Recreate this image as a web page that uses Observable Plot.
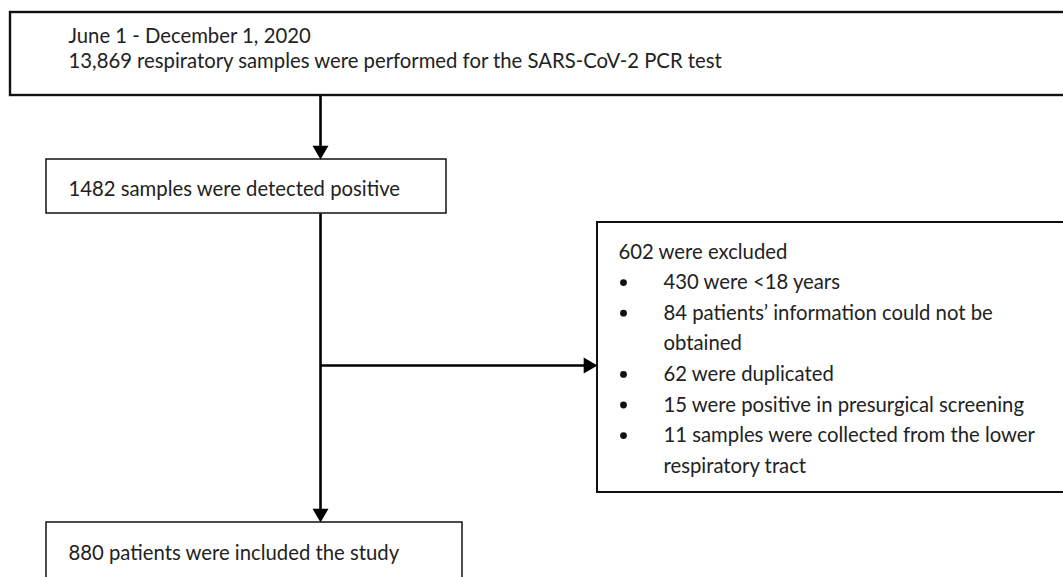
<!DOCTYPE html>
<html><head><meta charset="utf-8">
<script src="https://cdn.jsdelivr.net/npm/d3@7"></script>
<script src="https://cdn.jsdelivr.net/npm/@observablehq/plot@0.6"></script>
<style>html,body{margin:0;padding:0;background:#fff;overflow:hidden}</style>
</head><body><div id="chart"></div>
<script>
// ---- content ----
const topLines = ["June 1 - December 1, 2020", "13,869 respiratory samples were performed for the SARS-CoV-2 PCR test"];
const positiveLines = ["1482 samples were detected positive"];
const excludedHeader = ["602 were excluded"];
const excludedItems = [
  ["430 were <18 years"],
  ["84 patients\u2019 information could not be", "obtained"],
  ["62 were duplicated"],
  ["15 were positive in presurgical screening"],
  ["11 samples were collected from the lower", "respiratory tract"]
];
const includedLines = ["880 patients were included the study"];

// ---- layout ----
const W = 1063, H = 577;
const boxes = [
  {id: "top", x1: 10, x2: 1080, y1: 12, y2: 95, sw: 2.4},
  {id: "pos", x1: 46, x2: 446, y1: 159, y2: 213, sw: 1.5},
  {id: "exc", x1: 597, x2: 1080, y1: 222, y2: 492, sw: 2},
  {id: "inc", x1: 46, x2: 462, y1: 522, y2: 620, sw: 1.5}
];
const B = Object.fromEntries(boxes.map(b => [b.id, b]));
const stemX = 320, branchY = 365;
const lineGap = 30.6;

const texts = [];
topLines.forEach((t, i) => texts.push({x: 68, y: 42 + i * 25, t}));
positiveLines.forEach((t, i) => texts.push({x: 68, y: 195 + i * 25, t}));
excludedHeader.forEach(t => texts.push({x: 618, y: 258, t}));
const bullets = [];
let row = 1;
excludedItems.forEach(item => {
  bullets.push({x: 623, y: 258 + row * lineGap - 6.5});
  item.forEach(t => { texts.push({x: 663, y: 258 + row * lineGap, t}); row++; });
});
includedLines.forEach((t, i) => texts.push({x: 68, y: 559 + i * 25, t}));

const links = [
  {x1: stemX, y1: B.top.y2, x2: stemX, y2: B.pos.y1 - 8},
  {x1: stemX, y1: B.pos.y2, x2: stemX, y2: B.inc.y1 - 8},
  {x1: stemX, y1: branchY, x2: B.exc.x1 - 8, y2: branchY}
];
const hw = 4.6; // triangle half-scale
const heads = [
  {x: stemX, y: B.pos.y1 - 2 * hw, rot: 180},
  {x: stemX, y: B.inc.y1 - 2 * hw, rot: 180},
  {x: B.exc.x1 - 2 * hw, y: branchY, rot: 90}
];
const headR = Math.sqrt(3 * Math.sqrt(3) * hw * hw / Math.PI);

const font = "Lato, 'Open Sans', sans-serif";
const chart = Plot.plot({
  width: W, height: H,
  margin: 0,
  x: {domain: [0, W], range: [0, W], axis: null},
  y: {domain: [0, H], range: [0, H], axis: null},
  style: {background: "#fff", overflow: "hidden", fontFamily: font},
  marks: [
    Plot.rect(boxes, {x1: "x1", x2: "x2", y1: "y1", y2: "y2", fill: "#fff", stroke: "#111", strokeWidth: d => d.sw}),
    Plot.link(links, {x1: "x1", y1: "y1", x2: "x2", y2: "y2", stroke: "#000", strokeWidth: 2.6}),
    Plot.dot(heads, {x: "x", y: "y", symbol: "triangle", r: headR, rotate: "rot", fill: "#000", stroke: "none"}),
    Plot.dot(bullets, {x: "x", y: "y", r: 3.4, fill: "#111", stroke: "none"}),
    Plot.text(texts, {x: "x", y: "y", text: "t", textAnchor: "start", lineAnchor: "bottom", fontSize: 20.3, fill: "#222", fontFamily: font})
  ]
});
document.getElementById("chart").appendChild(chart);
</script>
</body></html>
